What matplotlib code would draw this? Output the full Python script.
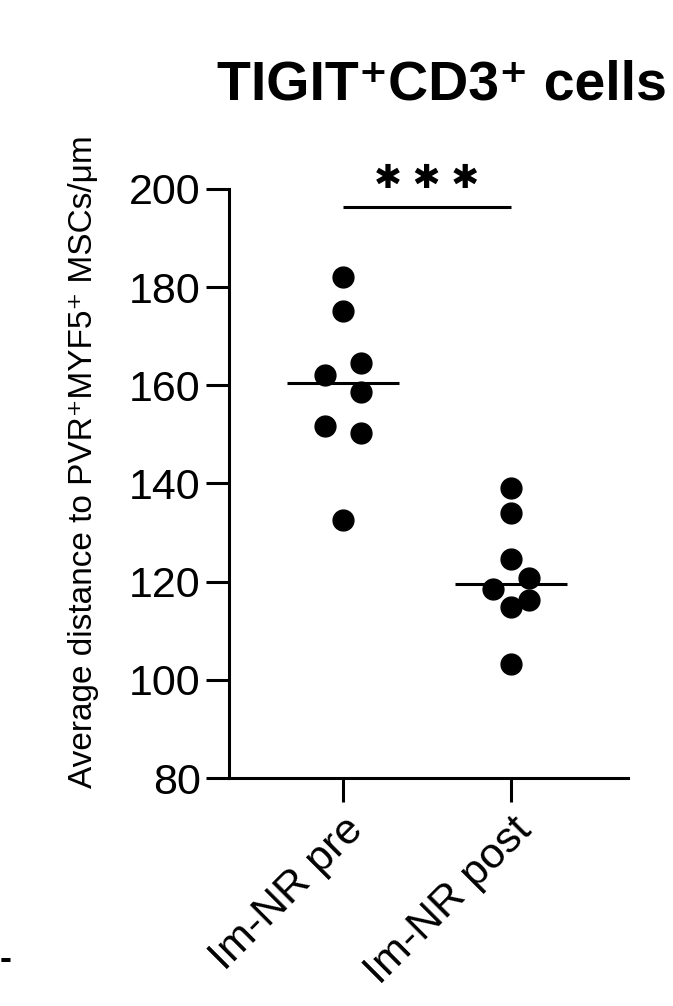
import matplotlib
matplotlib.use("Agg")
import matplotlib.pyplot as plt
import numpy as np

plt.rcParams['font.family'] = ['Liberation Sans', 'DejaVu Sans']

# values
groups = ["Im-NR pre", "Im-NR post"]
pre_vals = [182.1, 175.2, 162.1, 164.6, 158.7, 151.8, 150.3, 132.5]
pre_offsets = [0, 0, -1, 1, 1, -1, 1, 0]
post_vals = [139.1, 134.0, 124.7, 118.5, 120.7, 116.2, 114.9, 103.3]
post_offsets = [0, 0, 0, -1, 1, 1, 0, 0]
yticks = [80, 100, 120, 140, 160, 180, 200]
sig_label = "✱ ✱ ✱"

fig = plt.figure(figsize=(6.73, 10.06), dpi=100)
ax = fig.add_axes([229 / 673, 1 - 778 / 1006, 399 / 673, 589 / 1006])

jitter = 0.107
for i, (vals, offs) in enumerate([(pre_vals, pre_offsets), (post_vals, post_offsets)]):
    xs = i + jitter * np.array(offs)
    ax.plot(xs, vals, 'o', color='black', markersize=15, linestyle='none', clip_on=False)
    med = np.median(vals)
    ax.plot([i - 0.333, i + 0.333], [med, med], color='black', lw=2.2, solid_capstyle='butt')

# significance bar
ax.plot([0, 1], [196.3, 196.3], color='black', lw=2.2, clip_on=False, solid_capstyle='butt')
ax.text(0.5, 202.2, sig_label, ha='center', va='center', fontsize=24,
        family=['DejaVu Sans'])

ax.set_xlim(-0.679, 1.696)
ax.set_ylim(80, 200)
ax.set_yticks(yticks)
ax.set_yticklabels([str(t) for t in yticks], fontsize=31)
ax.set_xticks([0, 1])
ax.set_xticklabels(groups, rotation=45, ha='right', rotation_mode='anchor', fontsize=31)

for s in ['top', 'right']:
    ax.spines[s].set_visible(False)
for s in ['left', 'bottom']:
    ax.spines[s].set_linewidth(2.2)
ax.tick_params(axis='y', length=16.5, width=2.2, pad=4)
ax.tick_params(axis='x', length=17, width=2.2, pad=6)

ax.set_ylabel("Average distance to PVR⁺MYF5⁺ MSCs/μm", fontsize=24)
ax.yaxis.set_label_coords(-0.325, 0.537)

fig.text(667 / 673, 1 - 100 / 1006, "TIGIT⁺CD3⁺ cells", fontsize=40, fontweight='bold',
         ha='right', va='baseline')

fig.text(0.0, 1 - 960 / 1006, "-", fontsize=26, va='center', ha='left', fontweight='bold')

fig.savefig("out.png", dpi=100)
